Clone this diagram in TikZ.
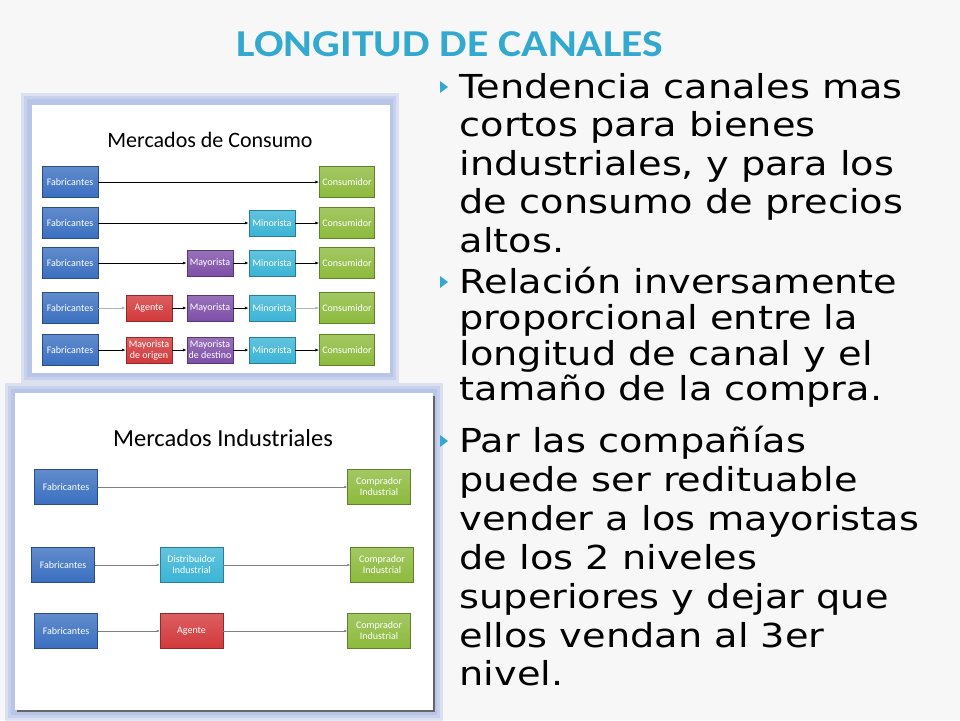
\documentclass[tikz,border=0pt]{standalone}
\usepackage{fontspec}
\setmainfont{DejaVu Sans}
\newfontfamily\carlito{Carlito}
\usetikzlibrary{arrows.meta}
\definecolor{fabblue}{HTML}{3A6FC0}
\definecolor{congreen}{HTML}{8CBA3C}
\definecolor{mincyan}{HTML}{3BB4D6}
\definecolor{maypurple}{HTML}{7E4FA8}
\definecolor{agred}{HTML}{D2383A}
\definecolor{titleblue}{HTML}{33A9D0}
\definecolor{glowblue}{HTML}{8FA3E0}
\tikzset{
  chbox/.style={draw=#1!70!black, line width=0.4pt, top color=#1!80!white, bottom color=#1,
    text=white, align=center, inner sep=1pt, font=\carlito\fontsize{10}{11}\selectfont},
  flow/.style={-{Latex[length=4pt,width=3pt]}, line width=0.9pt},
  pale/.style={-{Latex[length=4pt,width=3pt]}, line width=0.6pt, black!30},
  thin/.style={-{Latex[length=3pt,width=2.5pt]}, line width=0.5pt, black!50},
  bulletline/.style={anchor=base west, font=\fontsize{33}{36}\selectfont},
}
\begin{document}
\begin{tikzpicture}[x=1pt,y=-1pt]
  \fill[black!3] (0,0) rectangle (960,720);
  \useasboundingbox (0,0) rectangle (960,720);
  % title
  \node[text=titleblue, font=\carlito\bfseries\fontsize{38}{42}\selectfont] (title) at (450,44) {\scalebox{1.15}[1]{LONGITUD DE CANALES}};
  % glowing frames
  \foreach \g in {9,6,3} {
    \fill[glowblue, opacity=0.25] (30-\g,102-\g) rectangle (390+\g,374+\g);
    \fill[glowblue, opacity=0.25] (14-\g,392-\g) rectangle (434+\g,712+\g);
  }
  \fill[white] (32,105) rectangle (390,373);
  \fill[black!60] (17,396) rectangle (435,712);
  \fill[white] (15,393) rectangle (433,710);
  % consumo
  \node[font=\carlito\fontsize{22}{25}\selectfont] (tcons) at (210,140) {Mercados de Consumo};
  \node[chbox=fabblue, minimum width=56pt, minimum height=31pt] (f1) at (70,182) {Fabricantes};
  \node[chbox=fabblue, minimum width=56pt, minimum height=31pt] (f2) at (70,223) {Fabricantes};
  \node[chbox=fabblue, minimum width=56pt, minimum height=31pt] (f3) at (70,263) {Fabricantes};
  \node[chbox=fabblue, minimum width=56pt, minimum height=31pt] (f4) at (70,308) {Fabricantes};
  \node[chbox=fabblue, minimum width=56pt, minimum height=31pt] (f5) at (70,350) {Fabricantes};
  \node[chbox=congreen, minimum width=55pt, minimum height=31pt] (c1) at (347,182) {Consumidor};
  \node[chbox=congreen, minimum width=55pt, minimum height=31pt] (c2) at (347,223) {Consumidor};
  \node[chbox=congreen, minimum width=55pt, minimum height=31pt] (c3) at (347,263) {Consumidor};
  \node[chbox=congreen, minimum width=55pt, minimum height=31pt] (c4) at (347,308) {Consumidor};
  \node[chbox=congreen, minimum width=55pt, minimum height=31pt] (c5) at (347,350) {Consumidor};
  \node[chbox=mincyan, minimum width=46pt, minimum height=26pt] (mi2) at (272,223) {Minorista};
  \node[chbox=mincyan, minimum width=46pt, minimum height=26pt] (mi3) at (272,263) {Minorista};
  \node[chbox=mincyan, minimum width=46pt, minimum height=26pt] (mi4) at (272,308) {Minorista};
  \node[chbox=mincyan, minimum width=46pt, minimum height=26pt] (mi5) at (272,350) {Minorista};
  \node[chbox=maypurple, minimum width=46pt, minimum height=26pt] (ma3) at (210,263) {Mayorista};
  \node[chbox=maypurple, minimum width=46pt, minimum height=26pt] (ma4) at (210,308) {Mayorista};
  \node[chbox=maypurple, minimum width=46pt, minimum height=26pt] (md5) at (210,350) {Mayorista\\de destino};
  \node[chbox=agred, minimum width=46pt, minimum height=26pt] (ag4) at (149,308) {Agente};
  \node[chbox=agred, minimum width=46pt, minimum height=26pt] (mo5) at (149,350) {Mayorista\\de origen};
  \draw[flow] (f1) -- (c1);
  \draw[flow] (f2) -- (mi2);
  \draw[flow] (mi2) -- (c2);
  \draw[flow] (f3) -- (ma3);
  \draw[flow] (ma3) -- (mi3);
  \draw[flow] (mi3) -- (c3);
  \draw[pale] (f4) -- (ag4);
  \draw[flow] (ag4) -- (ma4);
  \draw[flow] (ma4) -- (mi4);
  \draw[pale] (mi4) -- (c4);
  \draw[flow] (f5) -- (mo5);
  \draw[flow] (mo5) -- (md5);
  \draw[flow] (md5) -- (mi5);
  \draw[flow] (mi5) -- (c5);
  % industriales
  \node[font=\carlito\fontsize{24.5}{28}\selectfont] (tind) at (223,438) {Mercados Industriales};
  \node[chbox=fabblue, minimum width=63pt, minimum height=35pt] (if1) at (66,487) {Fabricantes};
  \node[chbox=fabblue, minimum width=63pt, minimum height=35pt] (if2) at (63,565) {Fabricantes};
  \node[chbox=fabblue, minimum width=63pt, minimum height=35pt] (if3) at (66,631) {Fabricantes};
  \node[chbox=mincyan, minimum width=63pt, minimum height=35pt] (dist) at (191.5,565) {Distribuidor\\Industrial};
  \node[chbox=agred, minimum width=63pt, minimum height=35pt] (iag) at (191.5,631) {Agente};
  \node[chbox=congreen, minimum width=63pt, minimum height=35pt] (ic1) at (379,487) {Comprador\\Industrial};
  \node[chbox=congreen, minimum width=63pt, minimum height=35pt] (ic2) at (382,565) {Comprador\\Industrial};
  \node[chbox=congreen, minimum width=63pt, minimum height=35pt] (ic3) at (379,631) {Comprador\\Industrial};
  \draw[thin] (if1) -- (ic1);
  \draw[thin] (if2) -- (dist);
  \draw[thin] (dist) -- (ic2);
  \draw[thin] (if3) -- (iag);
  \draw[thin] (iag) -- (ic3);
  % bullets
  \foreach \b in {98,293,452}
    \fill[titleblue] (440,\b-17) -- (448,\b-11) -- (440,\b-5) -- cycle;
  \foreach \y/\t in {98/{Tendencia canales mas}, 136.5/{cortos para bienes}, 175/{industriales, y para los},
      213.5/{de consumo de precios}, 252/{altos.}, 293/{Relación inversamente},
      329/{proporcional entre la}, 365/{longitud de canal y el}, 400/{tamaño de la compra.},
      452/{Par las compañías}, 491/{puede ser redituable}, 530/{vender a los mayoristas},
      569/{de los 2 niveles}, 608/{superiores y dejar que}, 647/{ellos vendan al 3er}, 685/{nivel.}}
    \node[bulletline] at (456,\y) {\scalebox{1.16}[1]{\t}};
\end{tikzpicture}
\end{document}
